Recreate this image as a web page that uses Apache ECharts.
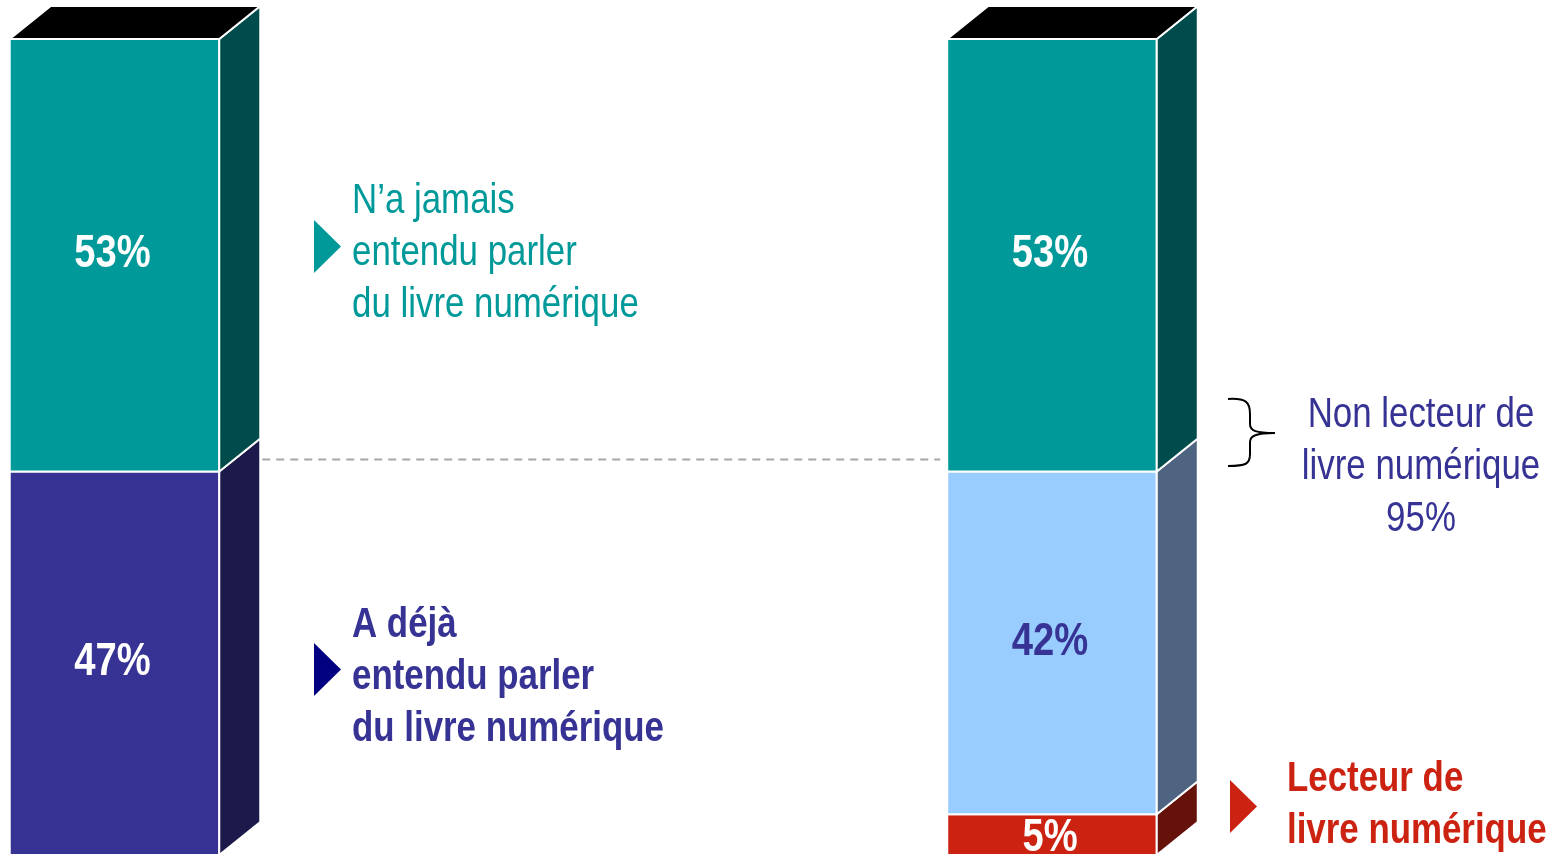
<!doctype html>
<html>
<head>
<meta charset="utf-8">
<script src="https://cdn.jsdelivr.net/npm/echarts@6/dist/echarts.min.js"></script>
<style>
html, body { margin: 0; padding: 0; background: #fff; }
#main { width: 1557px; height: 856px; }
</style>
</head>
<body>
<div id="main"></div>
<script type="text/javascript">
// données (en %)
var categories = ['Notoriété', 'Lecture'];
var lecteur = [0, 5];
var dejaEntendu = [47, 0];
var nonLecteur = [0, 42];
var jamaisEntendu = [53, 53];
var nonLecteurTotal = 95;

// police étroite simulée : Liberation Sans compressée horizontalement
var FONT = "'Liberation Sans', Arial, sans-serif";
var NARROW_X = 0.83;
var DX = 41, DY = 33;      // profondeur 3D
var BAR_W = 0.2235;        // largeur de la face avant, en unités de catégorie

var layers = [
  { name: 'Lecteur de livre numérique', data: lecteur, front: '#CC2211', side: '#64120A', label: '#ffffff' },
  { name: 'A déjà entendu parler', data: dejaEntendu, front: '#363394', side: '#1C1A4A', label: '#ffffff' },
  { name: 'Non lecteur', data: nonLecteur, front: '#99CCFF', side: '#4E6480', label: '#363394' },
  { name: "N’a jamais entendu parler", data: jamaisEntendu, front: '#009999', side: '#004C4C', label: '#ffffff' }
];

var totals = categories.map(function (c, i) {
  var s = 0;
  layers.forEach(function (l) { s += l.data[i]; });
  return s;
});

var myChart = echarts.init(document.getElementById('main'));

function makeRender(layer) {
  return function (params, api) {
    var x = api.value(0), b = api.value(1), v = api.value(2);
    var p0 = api.coord([x, b]);
    var p1 = api.coord([x, b + v]);
    var w = api.size([1, 0])[0] * BAR_W;
    var xl = p0[0] - w / 2, xr = p0[0] + w / 2, yb = p0[1], yt = p1[1];
    var children = [
      {
        type: 'rect',
        shape: { x: xl, y: yt, width: w, height: yb - yt },
        style: { fill: layer.front, stroke: '#ffffff', lineWidth: 2 }
      },
      {
        type: 'polygon',
        shape: { points: [[xr, yb], [xr, yt], [xr + DX, yt - DY], [xr + DX, yb - DY]] },
        style: { fill: layer.side, stroke: '#ffffff', lineWidth: 2 }
      }
    ];
    if (b + v >= totals[x]) {
      children.push({
        type: 'polygon',
        shape: { points: [[xl, yt], [xr, yt], [xr + DX, yt - DY], [xl + DX, yt - DY]] },
        style: { fill: '#000000', stroke: '#ffffff', lineWidth: 2 }
      });
    }
    // petit segment : l'étiquette déborde vers le bas
    var ly = (yb - yt) < 60 ? (yt + yb) / 2 + 4 : (yt + yb) / 2 - 1;
    children.push({
      type: 'text',
      x: p0[0] - 2,
      y: ly,
      scaleX: NARROW_X,
      style: {
        text: v + '%',
        x: 0, y: 0,
        fill: layer.label,
        font: 'bold 46px ' + FONT,
        textAlign: 'center',
        textVerticalAlign: 'middle'
      }
    });
    return { type: 'group', children: children };
  };
}

var series = [];
var base = categories.map(function () { return 0; });
layers.forEach(function (layer) {
  var d = [];
  layer.data.forEach(function (v, i) {
    if (v > 0) {
      d.push([i, base[i], v]);
      base[i] += v;
    }
  });
  series.push({
    name: layer.name,
    type: 'custom',
    renderItem: makeRender(layer),
    data: d,
    clip: false,
    silent: true
  });
});

var option = {
  animation: false,
  grid: { left: 0, right: 0, top: 39, bottom: 1 },
  xAxis: { type: 'value', min: -0.12213, max: 1.53867, show: false },
  yAxis: { type: 'value', min: 0, max: 100, show: false },
  series: series
};
myChart.setOption(option);

// repères calculés depuis les axes
var pLeftTop = myChart.convertToPixel({ gridIndex: 0 }, [0, dejaEntendu[0]]);
var pRight = myChart.convertToPixel({ gridIndex: 0 }, [1, 0]);
var halfW = myChart.convertToPixel({ gridIndex: 0 }, [BAR_W / 2, 0])[0] - myChart.convertToPixel({ gridIndex: 0 }, [0, 0])[0];
var dashY = pLeftTop[1] - 12;

function tri(x, y, color) {
  return {
    type: 'polygon',
    shape: { points: [[x, y], [x + 27, y + 26.5], [x, y + 53]] },
    style: { fill: color }
  };
}

function txt(text, x, y, color, bold, align) {
  return {
    type: 'text',
    x: x, y: y,
    scaleX: NARROW_X,
    style: {
      text: text, x: 0, y: 0,
      fill: color,
      font: (bold ? 'bold ' : '') + '42px ' + FONT,
      lineHeight: 52,
      textAlign: align || 'left',
      textVerticalAlign: 'middle'
    }
  };
}

var braceStyle = { stroke: '#000000', lineWidth: 2, fill: null };
function curve(x1, y1, cx1, cy1, cx2, cy2, x2, y2) {
  return {
    type: 'bezierCurve',
    shape: { x1: x1, y1: y1, cpx1: cx1, cpy1: cy1, cpx2: cx2, cpy2: cy2, x2: x2, y2: y2 },
    style: braceStyle
  };
}

myChart.setOption({
  graphic: [
    {
      type: 'line',
      shape: { x1: pLeftTop[0] + halfW + DX + 2, y1: dashY, x2: pRight[0] - halfW - 7, y2: dashY },
      style: { stroke: '#A6A6A6', lineWidth: 2, lineDash: [8, 6] }
    },
    tri(314, 220, '#009999'),
    txt("N’a jamais\nentendu parler\ndu livre numérique", 352, 253, '#009999', false),
    tri(314, 643, '#000080'),
    txt('A déjà\nentendu parler\ndu livre numérique', 352, 677, '#363394', true),
    curve(1228, 399, 1246, 398, 1250, 402, 1250, 414),
    { type: 'line', shape: { x1: 1250, y1: 414, x2: 1250, y2: 424 }, style: braceStyle },
    curve(1250, 424, 1250, 431, 1256, 433, 1275, 433),
    curve(1275, 433, 1256, 433, 1250, 436, 1250, 442),
    { type: 'line', shape: { x1: 1250, y1: 442, x2: 1250, y2: 454 }, style: braceStyle },
    curve(1250, 454, 1250, 464, 1246, 466, 1228, 466),
    txt('Non lecteur de\nlivre numérique\n' + nonLecteurTotal + '%', 1421, 467, '#363394', false, 'center'),
    tri(1230, 780, '#CC2211'),
    txt('Lecteur de\nlivre numérique', 1287, 805, '#CC2211', true)
  ]
});
</script>
</body>
</html>
